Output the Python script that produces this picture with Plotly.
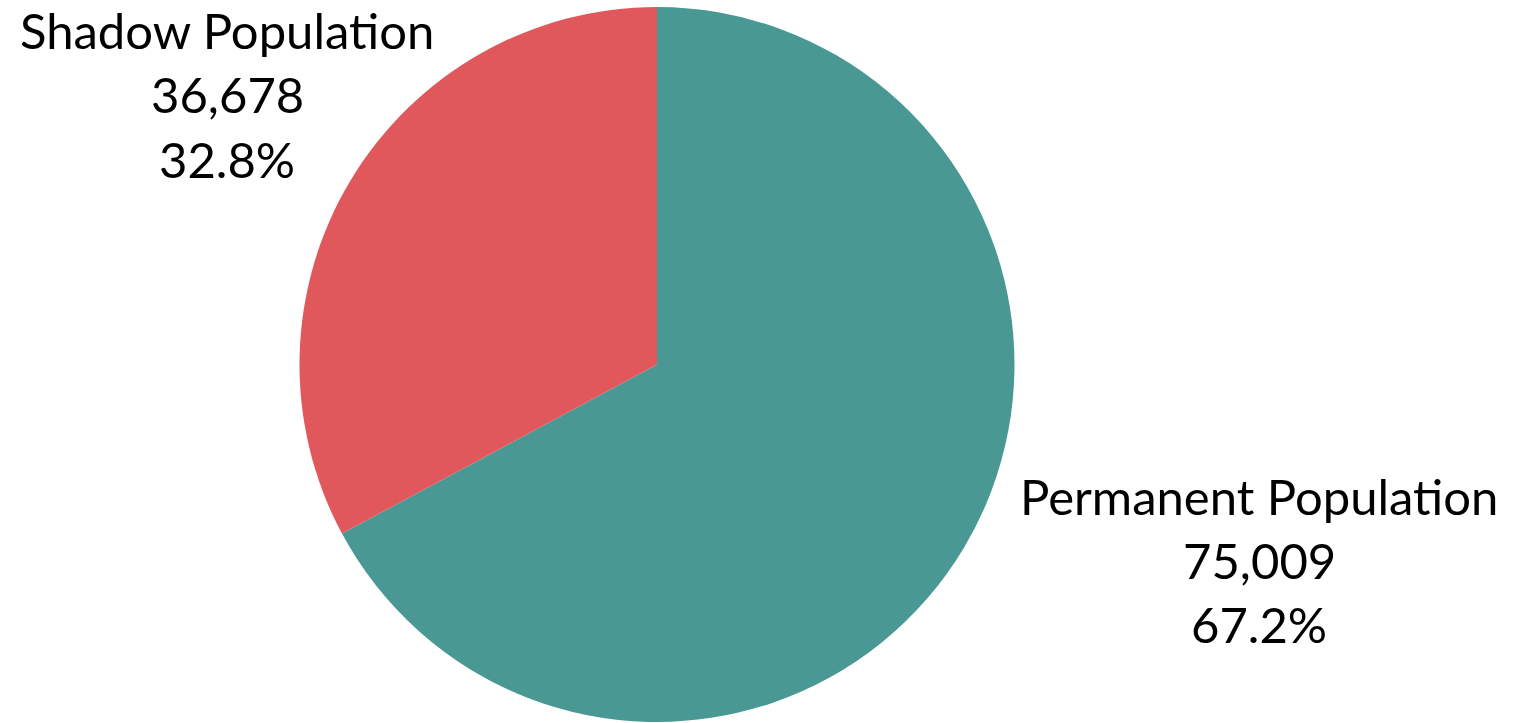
import plotly.graph_objects as go

labels = ["Permanent Population", "Shadow Population"]
values = [75009, 36678]
colors = ["#4A9893", "#E0585B"]

W, H = 1513, 723
total = sum(values)


def px_x(v):
    return v / W


def px_y(v):
    return 1 - v / H


fig = go.Figure()
fig.add_trace(
    go.Pie(
        labels=labels,
        values=values,
        marker=dict(colors=colors, line=dict(width=0)),
        sort=False,
        direction="clockwise",
        rotation=0,
        textinfo="none",
        hoverinfo="label+value+percent",
        showlegend=False,
        domain=dict(x=[px_x(299.5), px_x(1014.5)], y=[px_y(722), px_y(7)]),
    )
)

# label blocks: (x center px, y centers px for each line)
label_pos = {
    "Shadow Population": (227.5, [30.5, 94, 158.5]),
    "Permanent Population": (1259, [495.5, 559.5, 624]),
}
font = dict(family="Lato, 'Open Sans', sans-serif", size=49, color="#000000")
for name, val in zip(labels, values):
    cx, ys = label_pos[name]
    lines = [name, f"{val:,}", f"{val / total * 100:.1f}%"]
    for line, yy in zip(lines, ys):
        fig.add_annotation(
            x=px_x(cx), y=px_y(yy), xref="paper", yref="paper",
            text=line, showarrow=False, xanchor="center", yanchor="middle",
            borderpad=0, font=font,
        )

fig.update_layout(
    width=W, height=H,
    margin=dict(l=0, r=0, t=0, b=0),
    paper_bgcolor="white",
    plot_bgcolor="white",
)

fig.write_html(
    "out.html",
    config={"displayModeBar": False},
    post_script="document.body.style.margin='0';",
)
